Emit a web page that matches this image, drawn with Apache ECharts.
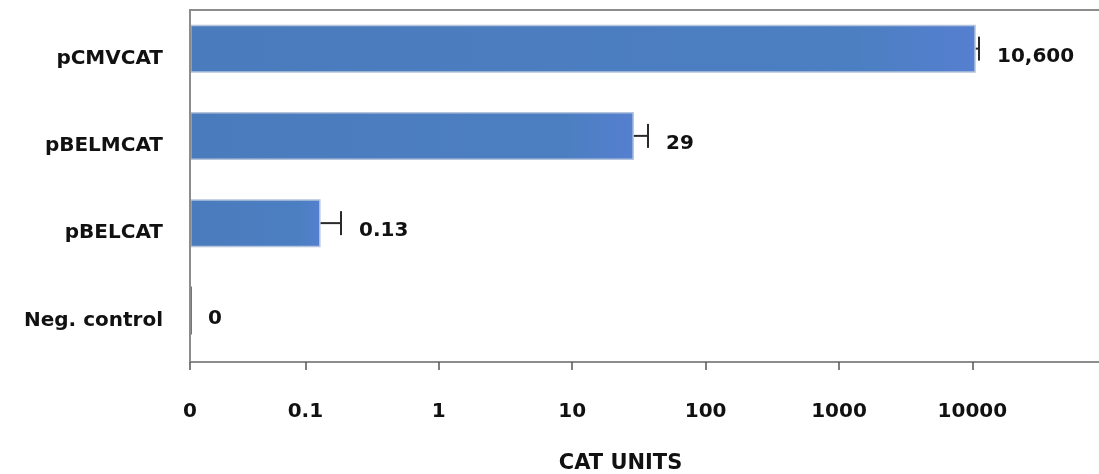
<!DOCTYPE html>
<html>
<head>
<meta charset="utf-8">
<script src="https://cdn.jsdelivr.net/npm/echarts@6/dist/echarts.min.js"></script>
<style>
  html, body { margin: 0; padding: 0; background: #ffffff; }
  #chart { width: 1099px; height: 474px; }
</style>
</head>
<body>
<div id="chart"></div>
<script>
// Constructs, top to bottom
const categories = ['pCMVCAT', 'pBELMCAT', 'pBELCAT', 'Neg. control'];
// Mean CAT activity per construct
const catUnits = [10600, 29, 0.13, 0];
// Upper error (same units)
const catErrors = [600, 8, 0.055, 0];
// Value-axis ticks (log scale); the first one stands for zero
const AXIS_ZERO = 0.01365;
const AXIS_MAX = 88900;
const tickValues = [AXIS_ZERO, 0.1, 1, 10, 100, 1000, 10000];
const tickLabels = ['0', '0.1', '1', '10', '100', '1000', '10000'];

const FONT = 'DejaVu Sans';
const GRID_LEFT = 190, GRID_TOP = 5, GRID_H = 349;
const FRAME_TOP = 10, AXIS_LINE_Y = 362;

function fmtValue(v) {
  return v.toLocaleString('en-US', { maximumFractionDigits: 3 });
}
function tickText(v) {
  for (let i = 0; i < tickValues.length; i++) {
    if (Math.abs(Math.log10(v) - Math.log10(tickValues[i])) < 0.01) return tickLabels[i];
  }
  return '';
}

const chart = echarts.init(document.getElementById('chart'), null, { renderer: 'canvas' });

// Zero readings sit on the axis origin and show as a thin sliver
const barData = catUnits.map(v => (v > 0
  ? { value: v }
  : { value: AXIS_ZERO, itemStyle: { color: '#767676', borderWidth: 0 } }));
const errData = catUnits.map((v, i) => [v > 0 ? v : AXIS_ZERO, i, catErrors[i]]);

chart.setOption({
  animation: false,
  backgroundColor: '#ffffff',
  grid: {
    left: GRID_LEFT, right: 0, top: GRID_TOP, height: GRID_H,
    containLabel: false, outerBoundsMode: 'none'
  },
  xAxis: {
    type: 'log',
    min: AXIS_ZERO,
    max: AXIS_MAX,
    startValue: AXIS_ZERO,
    offset: AXIS_LINE_Y - (GRID_TOP + GRID_H),
    axisLine: { show: true, lineStyle: { color: '#8c8c8c', width: 2 } },
    axisTick: { show: true, inside: false, length: 8, lineStyle: { color: '#555', width: 1.5 } },
    splitLine: { show: false },
    minorTick: { show: false },
    axisLabel: {
      showMaxLabel: false,
      margin: 40,
      fontFamily: FONT, fontWeight: 'bold', fontSize: 20, color: '#111',
      formatter: tickText
    },
    name: 'CAT UNITS',
    nameLocation: 'middle',
    nameGap: 91,
    nameTextStyle: { fontFamily: FONT, fontWeight: 'bold', fontSize: 21, color: '#111', padding: [0, 48, 0, 0] }
  },
  yAxis: {
    type: 'category',
    data: categories,
    inverse: true,
    axisLine: { show: false },
    axisTick: { show: false },
    splitLine: { show: false },
    axisLabel: {
      margin: 27,
      verticalAlign: 'top',
      lineHeight: 20,
      fontFamily: FONT, fontWeight: 'bold', fontSize: 20, color: '#111'
    }
  },
  graphic: [
    {
      type: 'polyline',
      silent: true,
      z: 10,
      shape: { points: [[GRID_LEFT, AXIS_LINE_Y], [GRID_LEFT, FRAME_TOP], [1099, FRAME_TOP]] },
      style: { stroke: '#8c8c8c', lineWidth: 2, fill: null }
    }
  ],
  series: [
    {
      type: 'bar',
      data: barData,
      barWidth: 48,
      barMinHeight: 2,
      itemStyle: {
        color: {
          type: 'linear', x: 0, y: 0, x2: 1, y2: 0,
          colorStops: [
            { offset: 0, color: '#4a7bbd' },
            { offset: 0.85, color: '#4c7fc2' },
            { offset: 1, color: '#557fd0' }
          ]
        },
        borderColor: '#b4c4dc',
        borderWidth: 1.5
      }
    },
    {
      type: 'custom',
      data: errData,
      encode: { x: 0, y: 1 },
      clip: false,
      z: 5,
      renderItem(params, api) {
        const v = api.value(0), cat = api.value(1), err = api.value(2);
        const end = api.coord([v, cat]);
        const cap = api.coord([v + err, cat]);
        const children = [];
        if (err > 0) {
          children.push({ type: 'line', shape: { x1: end[0], y1: end[1], x2: cap[0], y2: cap[1] },
            style: { stroke: '#2a2a2a', lineWidth: 2 } });
          children.push({ type: 'line', shape: { x1: cap[0], y1: cap[1] - 12, x2: cap[0], y2: cap[1] + 12 },
            style: { stroke: '#2a2a2a', lineWidth: 2 } });
        }
        children.push({
          type: 'text',
          x: cap[0] + 18, y: cap[1] + 8,
          style: {
            text: fmtValue(catUnits[params.dataIndex]),
            fontFamily: FONT, fontWeight: 'bold', fontSize: 20, fill: '#111',
            verticalAlign: 'middle', align: 'left'
          }
        });
        return { type: 'group', children };
      }
    }
  ]
});
</script>
</body>
</html>
